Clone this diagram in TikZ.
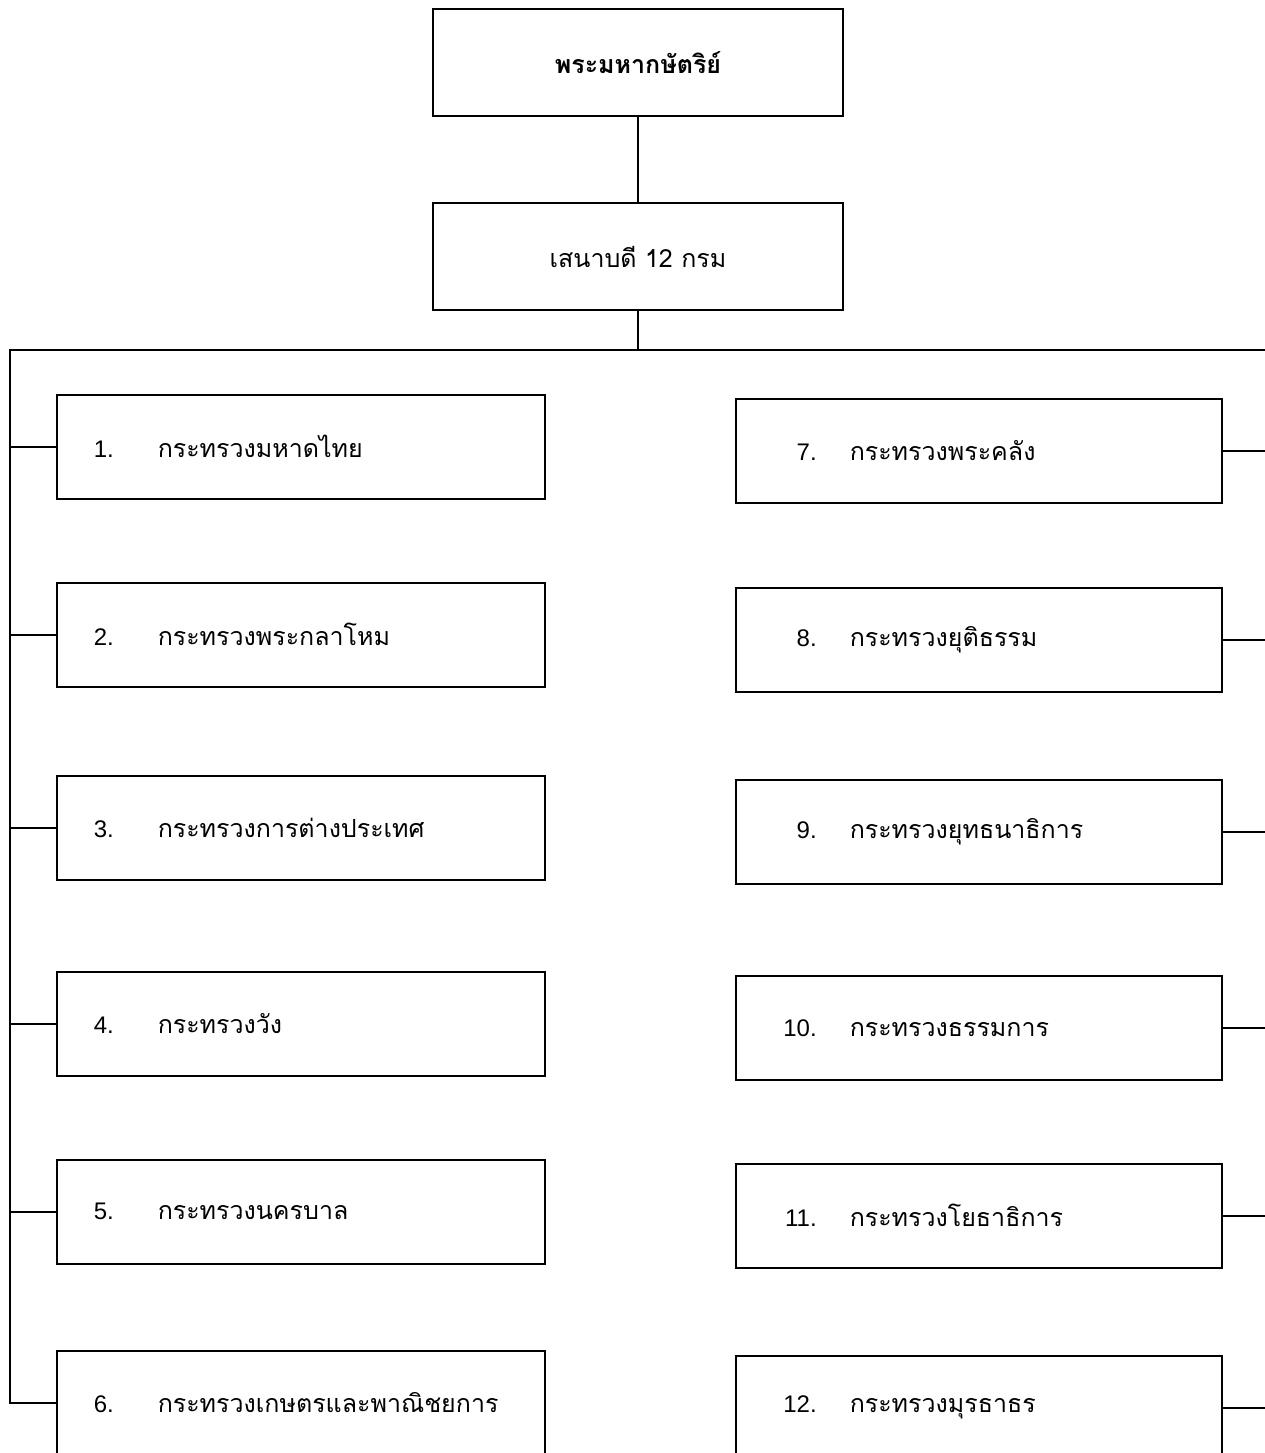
\documentclass[tikz,border=0pt]{standalone}
\usepackage{fontspec}
\newfontfamily\thaifont[Script=Thai]{Loma}
\newfontfamily\numfont{Liberation Sans}
\newcommand{\lbl}[2]{\makebox[101pt][l]{\hspace*{37pt}{\numfont\fontsize{24}{28}\selectfont #1}}{\thaifont\fontsize{25}{30}\selectfont #2}}
\newcommand{\rbl}[2]{\makebox[81pt][r]{\numfont\fontsize{24}{28}\selectfont #1}\hspace*{33pt}{\thaifont\fontsize{25}{30}\selectfont #2}}
\begin{document}
\begin{tikzpicture}[x=1pt,y=-1pt,line width=1.5pt,
  headbox/.style={draw,rectangle,line width=1.5pt,inner sep=0pt,minimum width=410pt,minimum height=107pt,
    font=\thaifont\fontsize{25}{30}\selectfont},
  leftbox/.style={draw,rectangle,line width=1.5pt,inner sep=0pt,anchor=north west,
    minimum width=488pt,minimum height=104pt,text width=488pt,align=left},
  rightbox/.style={draw,rectangle,line width=1.5pt,inner sep=0pt,anchor=north west,
    minimum width=486pt,minimum height=104pt,text width=486pt,align=left},
  link/.style={draw,line width=1.5pt}]
\useasboundingbox (0,0) rectangle (1265,1453);
\clip (0,0) rectangle (1265,1453);
\fill[white] (0,0) rectangle (1265,1453);

\node[headbox] (king) at (638,62.5) {\bfseries พระมหากษัตริย์};
\node[headbox] (sen) at (638,256.5) {เสนาบดี 12 กรม};

\node[leftbox] (m1) at (56,394) {\lbl{1.}{กระทรวงมหาดไทย}};
\node[leftbox] (m2) at (56,582) {\lbl{2.}{กระทรวงพระกลาโหม}};
\node[leftbox] (m3) at (56,775) {\lbl{3.}{กระทรวงการต่างประเทศ}};
\node[leftbox] (m4) at (56,971) {\lbl{4.}{กระทรวงวัง}};
\node[leftbox] (m5) at (56,1159) {\lbl{5.}{กระทรวงนครบาล}};
\node[leftbox] (m6) at (56,1350) {\lbl{6.}{กระทรวงเกษตรและพาณิชยการ}};

\node[rightbox] (m7) at (735,398) {\rbl{7.}{กระทรวงพระคลัง}};
\node[rightbox] (m8) at (735,587) {\rbl{8.}{กระทรวงยุติธรรม}};
\node[rightbox] (m9) at (735,779) {\rbl{9.}{กระทรวงยุทธนาธิการ}};
\node[rightbox] (m10) at (735,975) {\rbl{10.}{กระทรวงธรรมการ}};
\node[rightbox] (m11) at (735,1163) {\rbl{11.}{กระทรวงโยธาธิการ}};
\node[rightbox] (m12) at (735,1355) {\rbl{12.}{กระทรวงมุรธาธร}};

\coordinate (bl) at (10,350);
\coordinate (br) at (1270,350);

\draw[link] (king) -- (sen);
\draw[link] (sen.south) -- (sen.south |- bl);
\draw[link] (br) -- (bl) |- (m6.west);
\foreach \m in {m1,m2,m3,m4,m5}{
  \draw[link] (\m.west) -- (\m.west -| bl);
}
\foreach \m in {m7,m8,m9,m10,m11,m12}{
  \draw[link] (\m.east) -- (\m.east -| br);
}
\end{tikzpicture}
\end{document}
